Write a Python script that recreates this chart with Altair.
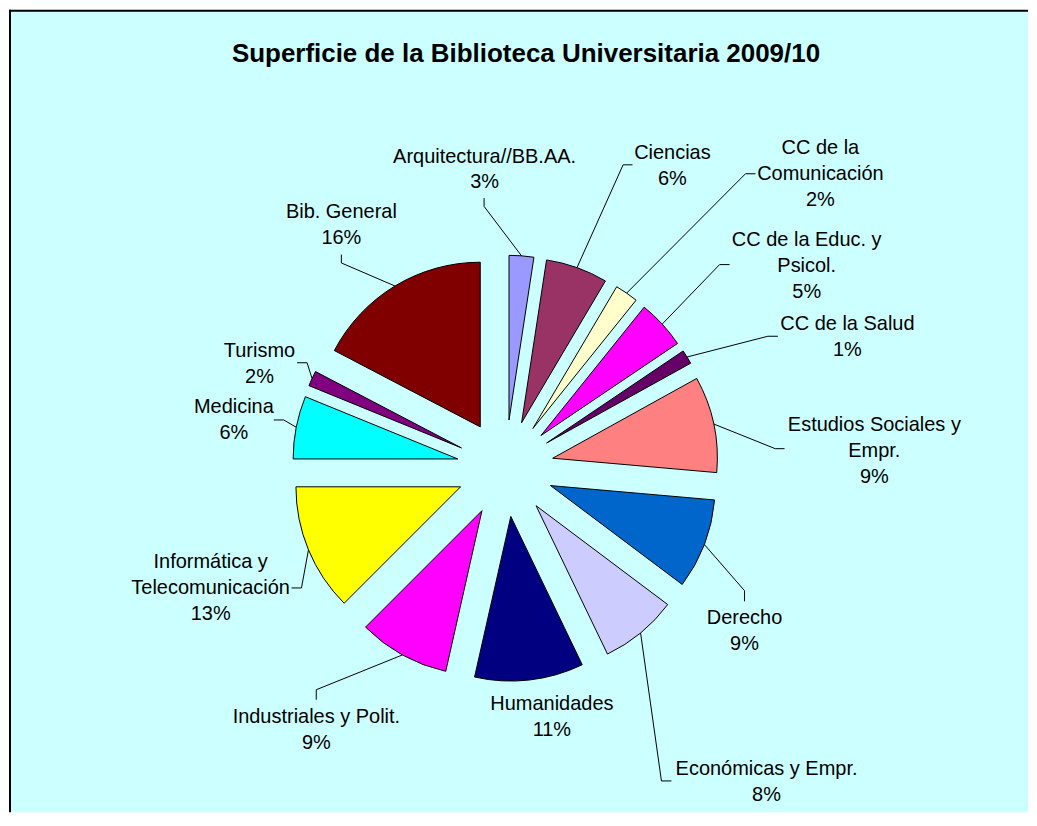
import altair as alt
import pandas as pd
import numpy as np

# ---------------- data ----------------
categories = [
    "Arquitectura//BB.AA.", "Ciencias", "CC de la Comunicación",
    "CC de la Educ. y Psicol.", "CC de la Salud", "Estudios Sociales y Empr.",
    "Derecho", "Económicas y Empr.", "Humanidades", "Industriales y Polit.",
    "Informática y Telecomunicación", "Medicina", "Turismo", "Bib. General",
]
label_lines = [
    ["Arquitectura//BB.AA."], ["Ciencias"], ["CC de la", "Comunicación"],
    ["CC de la Educ. y", "Psicol."], ["CC de la Salud"], ["Estudios Sociales y", "Empr."],
    ["Derecho"], ["Económicas y Empr."], ["Humanidades"], ["Industriales y Polit."],
    ["Informática y", "Telecomunicación"], ["Medicina"], ["Turismo"], ["Bib. General"],
]
# share of each slice (%), estimated from the drawn angles
shares = [2.42, 6.08, 2.28, 4.78, 1.39, 9.44, 8.86, 7.61, 10.67, 8.97, 12.50, 6.17, 1.50, 17.33]
pct_labels = ["3%", "6%", "2%", "5%", "1%", "9%", "9%", "8%", "11%", "9%", "13%", "6%", "2%", "16%"]
colors = [
    "#9999FF", "#993366", "#FFFFCC", "#FF00FF", "#660066", "#FF8080", "#0066CC",
    "#CCCCFF", "#000080", "#FF00FF", "#FFFF00", "#00FFFF", "#800080", "#800000",
]

# ---------------- layout ----------------
W, H = 1021, 804
CX, CY = 497.3, 459.4      # pie centre
R = 165                     # pie radius
EXPLODE = 48.5              # explosion distance of every slice
LINE_H = 26
FONT = "Liberation Sans"

# label offsets relative to the slice's outer mid point: (label dx, dy), leader start, leader elbow
label_off = [(-37, -99.5), (95.6, -114.6), (194.1, -145.2), (144.8, -84.6), (160.7, -33.1),
             (160.9, 1.0), (40.3, 73.6), (126.2, 135.9), (22.5, 23.8), (-86.3, 62.3),
             (-98.0, 12.6), (-62.5, -20.3), (-52.7, -27.5), (-53.7, -73.8)]
leader_start = [(-37.5, -57.8), (55.6, -103), (129.1, -119.6), (67.5, -59.6), (91, -20.8),
                (70.9, 24.7), (40.3, 57), (30.9, 148.3), None, (-86.4, 44.9),
                (-17, 38.2), (-22.5, -7.3), (-15, -15.8), (-53.7, -31.5)]
leader_elbow = [(-37.5, -49.5), (46.2, -103), (119.1, -119.6), (57.5, -59.6), (81, -20.8),
                (61.6, 24.7), (40.3, 46.3), (20.9, 148.3), None, (-86.4, 34.9),
                (-7, 38.2), (-12.5, -7.3), (-5, -15.8), (-53.7, -23.1)]

vals = np.array(shares, dtype=float)
cum = np.cumsum(vals)
t1 = cum / vals.sum() * 2 * np.pi
t0 = t1 - vals / vals.sum() * 2 * np.pi
mid = (t0 + t1) / 2
slice_df = pd.DataFrame({
    "cat": categories,
    "value": vals,
    "t0": t0,
    "t1": t1,
    "cx": CX + EXPLODE * np.sin(mid),
    "cy": CY - EXPLODE * np.cos(mid),
})
ax = CX + (EXPLODE + R) * np.sin(mid)
ay = CY - (EXPLODE + R) * np.cos(mid)

text_rows = []
for i, cat in enumerate(categories):
    lines = label_lines[i] + [pct_labels[i]]
    for j, ln in enumerate(lines):
        text_rows.append({"cat": cat, "txt": ln,
                          "x": ax[i] + label_off[i][0],
                          "y": ay[i] + label_off[i][1] + j * LINE_H})
text_df = pd.DataFrame(text_rows)

lead_rows = []
for i, cat in enumerate(categories):
    if leader_start[i] is None:
        continue
    pts = [(ax[i] + leader_start[i][0], ay[i] + leader_start[i][1]),
           (ax[i] + leader_elbow[i][0], ay[i] + leader_elbow[i][1]),
           (ax[i], ay[i])]
    for k, (px, py) in enumerate(pts):
        lead_rows.append({"cat": cat, "k": k, "x": px, "y": py})
lead_df = pd.DataFrame(lead_rows)

arcs = alt.Chart(slice_df).mark_arc(outerRadius=R, stroke="black", strokeWidth=1).encode(
    theta=alt.Theta("t0:Q", scale=None, stack=None),
    theta2="t1:Q",
    x=alt.X("cx:Q", scale=None, axis=None),
    y=alt.Y("cy:Q", scale=None, axis=None),
    color=alt.Color("cat:N", scale=alt.Scale(domain=categories, range=colors), legend=None),
)

leaders = alt.Chart(lead_df).mark_line(color="black", strokeWidth=1).encode(
    x=alt.X("x:Q", scale=None, axis=None),
    y=alt.Y("y:Q", scale=None, axis=None),
    detail="cat:N",
    order="k:Q",
)

labels = alt.Chart(text_df).mark_text(
    font=FONT, fontSize=20, color="black", align="center", baseline="middle"
).encode(
    x=alt.X("x:Q", scale=None, axis=None),
    y=alt.Y("y:Q", scale=None, axis=None),
    text="txt:N",
)

title = alt.Chart(pd.DataFrame({"t": ["Superficie de la Biblioteca Universitaria 2009/10"]})).mark_text(
    font=FONT, fontSize=26, fontWeight="bold", color="black", align="center", baseline="alphabetic"
).encode(x=alt.value(518), y=alt.value(52), text="t:N")

left_border = alt.Chart(pd.DataFrame({"a": [0]})).mark_rule(color="black", strokeWidth=2).encode(
    x=alt.value(1), y=alt.value(0), y2=alt.value(H))
top_border = alt.Chart(pd.DataFrame({"a": [0]})).mark_rule(color="black", strokeWidth=2).encode(
    y=alt.value(1), x=alt.value(0), x2=alt.value(W))

chart = alt.layer(arcs, leaders, labels, title, left_border, top_border).properties(
    width=W, height=H, padding=0, background="white"
).configure_view(fill="#CCFFFF", stroke=None)

chart.save("out.html", embed_options={"renderer": "svg", "actions": False})
